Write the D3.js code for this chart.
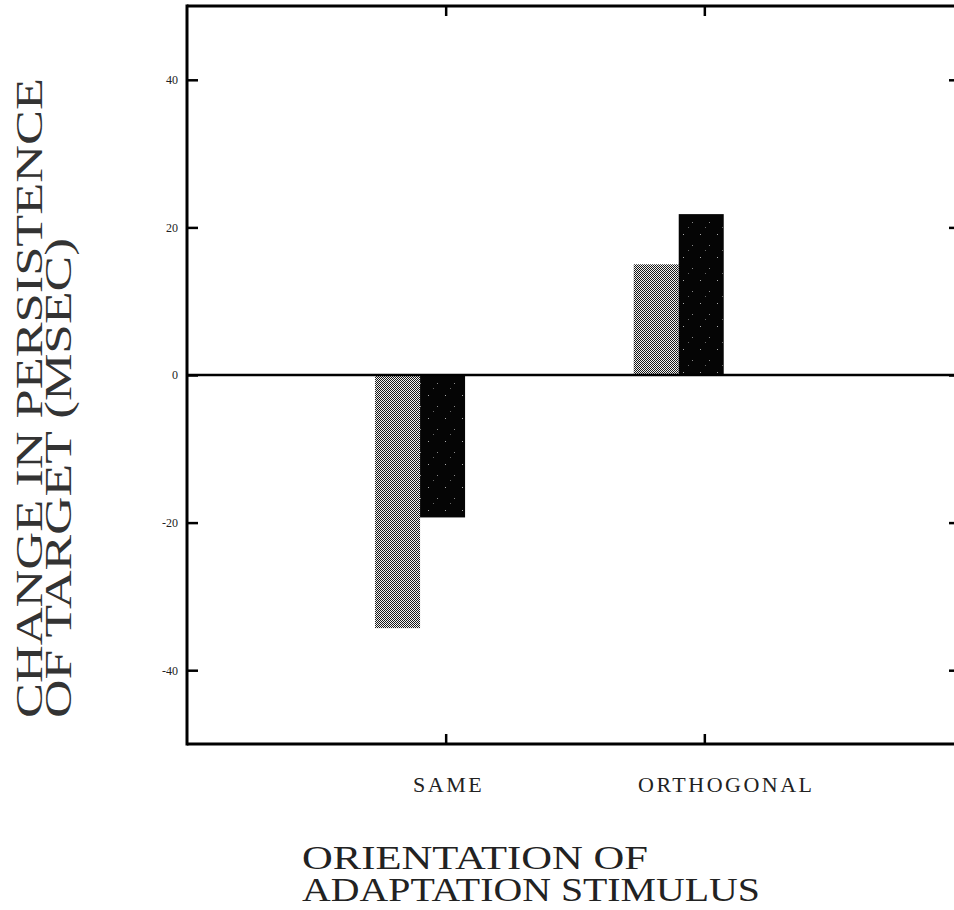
<!DOCTYPE html>
<html>
<head>
<meta charset="utf-8">
<script src="https://cdn.jsdelivr.net/npm/d3@7"></script>
<style>
  body { margin: 0; background: #fff; }
  svg { display: block; }
</style>
</head>
<body>
<svg id="chart" width="954" height="910"></svg>
<script>
// Change in persistence of the target after adaptation, per orientation
const categories = ["SAME", "ORTHOGONAL"];
const lightValues = [-34.3, 15.0];   // stippled bars
const darkValues = [-19.3, 21.8];    // dark bars
const yTicks = [-40, -20, 0, 20, 40];
const yTitleLines = ["CHANGE IN PERSISTENCE", "OF TARGET (MSEC)"];
const xTitleLines = ["ORIENTATION OF", "ADAPTATION STIMULUS"];

const svg = d3.select("#chart");
const W = 954;
const serif = "Liberation Serif, Times New Roman, serif";

// category i sits at index i+1 on a 0..3 axis; the frame runs past the right edge
const x = d3.scaleLinear().domain([0, 3]).range([187, 963]);
const y = d3.scaleLinear().domain([-50, 50]).range([744, 6]);
const step = x(1) - x(0);
const barW = 0.174 * step;
const groupOffset = -0.273 * step;

// fills
const defs = svg.append("defs");
const pLight = defs.append("pattern")
  .attr("id", "stipple").attr("patternUnits", "userSpaceOnUse")
  .attr("width", 2).attr("height", 2);
pLight.append("rect").attr("width", 2).attr("height", 2).attr("fill", "#f2f2f2");
pLight.append("rect").attr("x", 0).attr("y", 0).attr("width", 1).attr("height", 1).attr("fill", "#1a1a1a");
pLight.append("rect").attr("x", 1).attr("y", 1).attr("width", 1).attr("height", 1).attr("fill", "#1a1a1a");

const pDark = defs.append("pattern")
  .attr("id", "speckle").attr("patternUnits", "userSpaceOnUse")
  .attr("width", 17).attr("height", 23);
pDark.append("rect").attr("width", 17).attr("height", 23).attr("fill", "#050505");
pDark.append("rect").attr("x", 3).attr("y", 4).attr("width", 1).attr("height", 1).attr("fill", "#aaa");
pDark.append("rect").attr("x", 12).attr("y", 15).attr("width", 1).attr("height", 1).attr("fill", "#888");
pDark.append("rect").attr("x", 8).attr("y", 20).attr("width", 1).attr("height", 1).attr("fill", "#666");

// bars
const bars = svg.append("g");
categories.forEach((c, i) => {
  const cx = x(i + 1);
  const series = [
    { v: lightValues[i], fill: "url(#stipple)", off: 0 },
    { v: darkValues[i], fill: "url(#speckle)", off: 1 }
  ];
  series.forEach(s => {
    bars.append("rect")
      .attr("x", cx + groupOffset + s.off * barW)
      .attr("width", barW)
      .attr("y", Math.min(y(s.v), y(0)))
      .attr("height", Math.abs(y(s.v) - y(0)))
      .attr("fill", s.fill);
  });
});

// frame
const frame = svg.append("g").attr("stroke", "#000").attr("fill", "none");
frame.append("line").attr("x1", x(0)).attr("x2", W + 10).attr("y1", y(50)).attr("y2", y(50)).attr("stroke-width", 3);
frame.append("line").attr("x1", x(0)).attr("x2", W + 10).attr("y1", y(-50)).attr("y2", y(-50)).attr("stroke-width", 3);
frame.append("line").attr("x1", x(0)).attr("x2", x(0)).attr("y1", y(50) - 1.5).attr("y2", y(-50) + 1.5).attr("stroke-width", 3);
frame.append("line").attr("x1", x(3)).attr("x2", x(3)).attr("y1", y(50)).attr("y2", y(-50)).attr("stroke-width", 3);
// zero line
frame.append("line").attr("x1", x(0)).attr("x2", W + 10).attr("y1", y(0)).attr("y2", y(0)).attr("stroke-width", 2.5);

// left axis (inward ticks)
const yAxisL = svg.append("g").attr("transform", `translate(${x(0)},0)`)
  .call(d3.axisLeft(y).tickValues(yTicks).tickSize(-11).tickPadding(9)
    .tickFormat(d => d < 0 ? "-" + Math.abs(d) : String(d)));
yAxisL.select(".domain").remove();
yAxisL.selectAll("line").attr("stroke-width", 2.5);
yAxisL.selectAll("text")
  .attr("font-family", serif).attr("font-size", 12).attr("fill", "#222");

// right axis (inward ticks, no labels)
const yAxisR = svg.append("g").attr("transform", `translate(${x(3)},0)`)
  .call(d3.axisRight(y).tickValues(yTicks).tickSize(-14).tickFormat(""));
yAxisR.select(".domain").remove();
yAxisR.selectAll("line").attr("stroke-width", 2.5);

// bottom and top category ticks
const catPos = categories.map((c, i) => i + 1);
const xAxisB = svg.append("g").attr("transform", `translate(0,${y(-50)})`)
  .call(d3.axisBottom(x).tickValues(catPos).tickSize(-10).tickFormat(""));
xAxisB.select(".domain").remove();
xAxisB.selectAll("line").attr("stroke-width", 2.5);
const xAxisT = svg.append("g").attr("transform", `translate(0,${y(50)})`)
  .call(d3.axisTop(x).tickValues(catPos).tickSize(-10).tickFormat(""));
xAxisT.select(".domain").remove();
xAxisT.selectAll("line").attr("stroke-width", 2.5);

// category labels, nudged right of their ticks
const labelShift = [3, 22];
svg.append("g").selectAll("text").data(categories).join("text")
  .attr("x", (d, i) => x(i + 1) + labelShift[i])
  .attr("y", 792)
  .attr("text-anchor", "middle")
  .attr("font-family", serif)
  .attr("font-size", 22)
  .attr("letter-spacing", 2.5)
  .attr("fill", "#222")
  .text(d => d);

// axis titles
const yTitle = svg.append("g").attr("transform", "translate(0,718) rotate(-90)");
yTitle.selectAll("text").data(yTitleLines).join("text")
  .attr("x", 0)
  .attr("y", (d, i) => 42 + i * 29)
  .attr("font-family", serif)
  .attr("font-size", 38)
  .attr("fill", "#333")
  .attr("textLength", (d, i) => i === 0 ? 640 : 480)
  .attr("lengthAdjust", "spacingAndGlyphs")
  .text(d => d);

svg.append("g").selectAll("text").data(xTitleLines).join("text")
  .attr("x", 302)
  .attr("y", (d, i) => 869 + i * 32)
  .attr("font-family", serif)
  .attr("font-size", 34)
  .attr("fill", "#222")
  .attr("textLength", (d, i) => i === 0 ? 346 : 458)
  .attr("lengthAdjust", "spacingAndGlyphs")
  .text(d => d);
</script>
</body>
</html>
